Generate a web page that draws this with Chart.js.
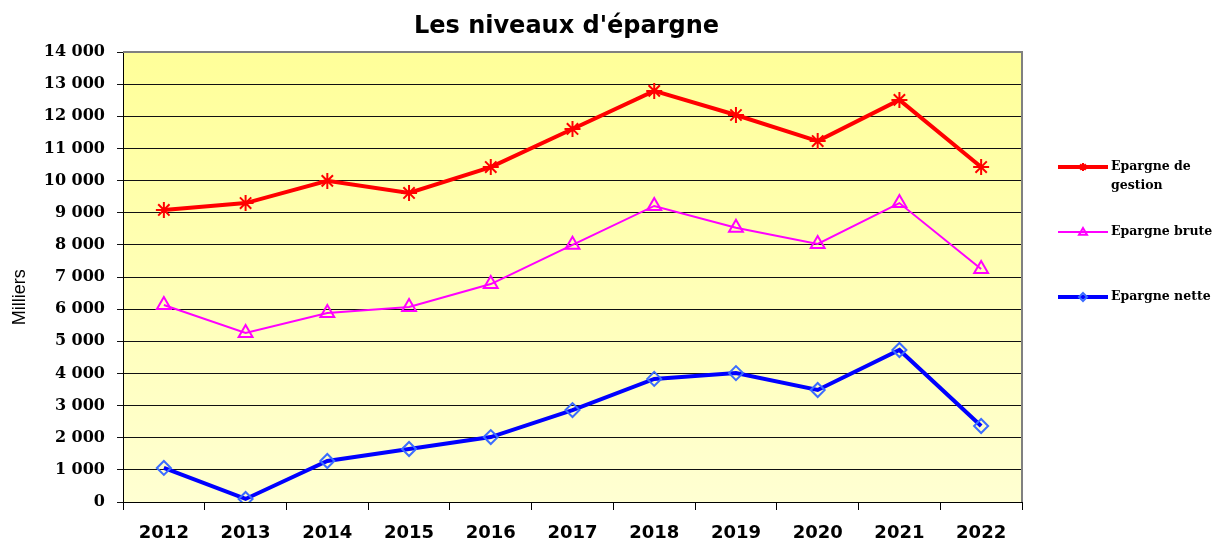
<!DOCTYPE html>
<html>
<head>
<meta charset="utf-8">
<script src="https://cdn.jsdelivr.net/npm/chart.js@4/dist/chart.umd.min.js"></script>
<style>
  html, body { margin: 0; padding: 0; background: #fff; }
  #wrap { width: 1221px; height: 544px; }
</style>
</head>
<body>
<div id="wrap"><canvas id="graphCanvas"></canvas></div>
<script>
// data
var years = ['2012', '2013', '2014', '2015', '2016', '2017', '2018', '2019', '2020', '2021', '2022'];
var epargneGestion = [9085, 9300, 9990, 9615, 10420, 11605, 12790, 12040, 11230, 12510, 10420];
var epargneBrute = [6130, 5260, 5880, 6070, 6780, 8000, 9210, 8530, 8030, 9300, 7250];
var epargneNette = [1060, 95, 1275, 1650, 2020, 2860, 3830, 4010, 3485, 4730, 2365];
var seriesLabels = [['Epargne de', 'gestion'], ['Epargne brute'], ['Epargne nette']];
var chartTitle = "Les niveaux d'épargne";
var yMin = 0, yMax = 14000, yStep = 1000;

function formatMilliers(v) {
  var s = String(Math.round(v));
  return s.replace(/\B(?=(\d{3})+(?!\d))/g, ' ');
}

function drawMarker(ctx, style, x, y, r) {
  ctx.beginPath();
  if (style == 'star') {
    for (var i = 0; i < 4; i++) {
      var a = i * Math.PI / 4;
      ctx.moveTo(x - Math.cos(a) * r, y - Math.sin(a) * r);
      ctx.lineTo(x + Math.cos(a) * r, y + Math.sin(a) * r);
    }
    ctx.stroke();
  } else if (style == 'triangle') {
    ctx.moveTo(x, y - r);
    ctx.lineTo(x + r, y + r * 0.7);
    ctx.lineTo(x - r, y + r * 0.7);
    ctx.closePath();
    ctx.stroke();
  } else if (style == 'rectRot') {
    ctx.moveTo(x, y - r);
    ctx.lineTo(x + r, y);
    ctx.lineTo(x, y + r);
    ctx.lineTo(x - r, y);
    ctx.closePath();
    ctx.stroke();
  }
}

var plotDecor = {
  id: 'plotDecor',
  beforeDraw: function(chart) {
    var a = chart.chartArea, ctx = chart.ctx;
    var g = ctx.createLinearGradient(0, a.top, 0, a.bottom);
    g.addColorStop(0, '#ffff99');
    g.addColorStop(1, '#ffffd2');
    ctx.save();
    ctx.fillStyle = g;
    ctx.fillRect(a.left, a.top, a.right - a.left, a.bottom - a.top);
    ctx.restore();
  },
  beforeDatasetsDraw: function(chart) {
    var a = chart.chartArea, ctx = chart.ctx;
    ctx.save();
    ctx.strokeStyle = '#808080';
    ctx.lineWidth = 2;
    ctx.beginPath();
    ctx.moveTo(a.left, a.top);
    ctx.lineTo(a.right, a.top);
    ctx.lineTo(a.right, a.bottom);
    ctx.stroke();
    ctx.restore();
  },
  afterDraw: function(chart) {
    var a = chart.chartArea, ctx = chart.ctx;

    // title, centred over the plot
    ctx.save();
    ctx.fillStyle = '#000';
    ctx.font = 'bold 24px "DejaVu Sans", Verdana, sans-serif';
    ctx.textAlign = 'center';
    ctx.textBaseline = 'middle';
    ctx.fillText(chartTitle, (a.left + a.right) / 2 - 6, a.top - 25);
    ctx.restore();

    // y axis title
    ctx.save();
    ctx.translate(20, a.top + (a.bottom - a.top) * 0.545);
    ctx.rotate(-Math.PI / 2);
    ctx.fillStyle = '#000';
    ctx.font = '18px "Liberation Sans", Arial, sans-serif';
    ctx.textAlign = 'center';
    ctx.textBaseline = 'middle';
    ctx.fillText('Milliers', 0, 0);
    ctx.restore();

    // legend on the right
    ctx.save();
    chart.data.datasets.forEach(function(ds, i) {
      var y = a.top + 115 + i * 65;
      var x0 = a.right + 36, x1 = a.right + 86;
      ctx.strokeStyle = ds.borderColor;
      ctx.lineWidth = ds.borderWidth;
      ctx.beginPath();
      ctx.moveTo(x0, y);
      ctx.lineTo(x1, y);
      ctx.stroke();
      ctx.strokeStyle = ds.pointBorderColor;
      ctx.lineWidth = 2;
      drawMarker(ctx, ds.pointStyle, (x0 + x1) / 2, y, 4);
      ctx.fillStyle = '#000';
      ctx.font = 'bold 12.5px "DejaVu Serif", serif';
      ctx.textAlign = 'left';
      ctx.textBaseline = 'middle';
      seriesLabels[i].forEach(function(line, k) {
        ctx.fillText(line, x1 + 3, y + k * 19);
      });
    });
    ctx.restore();
  }
};

var canvas = document.getElementById('graphCanvas').getContext('2d');

var chart = new Chart(canvas, {
  type: 'line',
  data: {
    labels: years,
    datasets: [{
      label: seriesLabels[0].join(' '),
      data: epargneGestion,
      borderColor: '#ff0000',
      borderWidth: 4,
      pointStyle: 'star',
      pointRadius: 8,
      pointBorderWidth: 2,
      pointBorderColor: '#ff0000',
      pointBackgroundColor: '#ff0000',
      tension: 0
    }, {
      label: seriesLabels[1].join(' '),
      data: epargneBrute,
      borderColor: '#ff00ff',
      borderWidth: 2,
      pointStyle: 'triangle',
      pointRadius: 8,
      pointBorderWidth: 2,
      pointBorderColor: '#ff00ff',
      pointBackgroundColor: 'rgba(0,0,0,0)',
      tension: 0
    }, {
      label: seriesLabels[2].join(' '),
      data: epargneNette,
      borderColor: '#0000ff',
      borderWidth: 4,
      pointStyle: 'rectRot',
      pointRadius: 7,
      pointBorderWidth: 2,
      pointBorderColor: '#3b6cff',
      pointBackgroundColor: 'rgba(0,0,0,0)',
      tension: 0
    }]
  },
  options: {
    responsive: true,
    maintainAspectRatio: false,
    animation: false,
    layout: { padding: { left: 0, right: 199, top: 52, bottom: 0 } },
    plugins: {
      legend: { display: false },
      tooltip: { enabled: false },
      title: { display: false }
    },
    scales: {
      x: {
        offset: true,
        grid: { offset: true, drawOnChartArea: false, tickLength: 8, color: '#000', lineWidth: 1 },
        border: { display: true, color: '#000', width: 1 },
        ticks: {
          color: '#000',
          padding: 13,
          maxRotation: 0,
          font: { family: '"DejaVu Sans", Verdana, sans-serif', size: 18, weight: 'bold' }
        },
        afterFit: function(s) { s.height = 42; }
      },
      y: {
        min: yMin,
        max: yMax,
        grid: { color: '#111', lineWidth: 1, tickLength: 6 },
        border: { display: true, color: '#000', width: 1 },
        ticks: {
          stepSize: yStep,
          color: '#000',
          padding: 12,
          font: { family: '"DejaVu Serif", serif', size: 16, weight: 'bold' },
          callback: function(v) { return formatMilliers(v); }
        },
        afterFit: function(s) { s.width = 123; }
      }
    }
  },
  plugins: [plotDecor]
});
</script>
</body>
</html>
